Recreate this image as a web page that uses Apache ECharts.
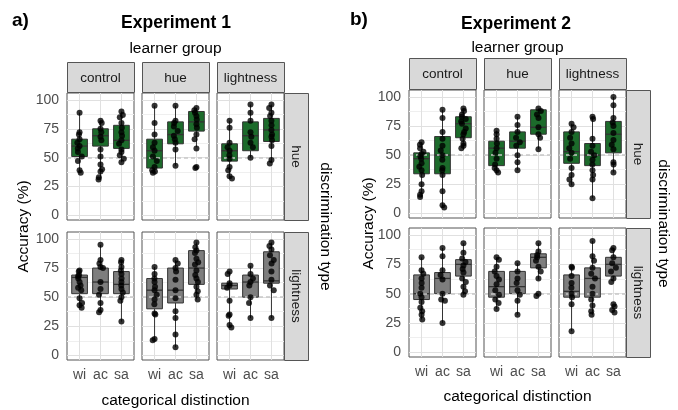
<!DOCTYPE html>
<html>
<head>
<meta charset="utf-8">
<script src="https://cdn.jsdelivr.net/npm/echarts@6/dist/echarts.min.js"></script>
<style>
  html, body { margin: 0; padding: 0; background: #ffffff; }
  #chart { width: 678px; height: 410px; }
</style>
</head>
<body>
<div id="chart"></div>
<script>
// ---- categories and labels ----
const categories = ['wi', 'ac', 'sa'];
const learnerGroups = ['control', 'hue', 'lightness'];
const discriminationTypes = ['hue', 'lightness'];
const yTicks = [0, 25, 50, 75, 100];
const yMinorTicks = [12.5, 37.5, 62.5, 87.5];
const chanceLevel = 50;

// ---- Experiment 1: box stats [min, Q1, median, Q3, max] per category (wi, ac, sa) ----
const e1HueControlBox = [[37, 51, 60, 66, 89], [31, 60, 69, 75, 82], [46, 58, 65, 78, 90]];
const e1HueHueBox = [[37, 41, 56, 66, 95], [43, 62, 70, 81, 95], [59, 73, 81, 90, 93]];
const e1HueLightBox = [[32, 47, 56, 62, 82], [50, 56, 69, 81, 96], [46, 64, 74, 84, 96]];
const e1LightControlBox = [[41, 53, 67, 69, 73], [37, 53, 63, 75, 95], [29, 53, 61, 72, 82]];
const e1LightHueBox = [[13, 40, 56, 66, 76], [7, 45, 56, 75, 82], [48, 61, 75, 90, 97]];
const e1LightLightBox = [[24, 57, 60, 62, 72], [32, 50, 63, 69, 77], [32, 62, 64, 89, 97]];

// ---- Experiment 1: individual accuracies per category (wi, ac, sa) ----
const e1HueControlPts = [
  [89, 72, 70, 66, 63, 60, 58, 55, 51, 47, 39, 37],
  [82, 80, 75, 72, 68, 65, 57, 51, 44, 40, 38, 33, 31],
  [90, 87, 85, 80, 76, 72, 69, 65, 62, 57, 55, 52, 49, 46]
];
const e1HueHuePts = [
  [95, 80, 70, 63, 59, 56, 51, 47, 42, 39, 37, 38],
  [95, 82, 80, 77, 73, 69, 66, 63, 57, 43],
  [93, 91, 89, 86, 83, 79, 76, 70, 66, 58, 42, 41]
];
const e1HueLightPts = [
  [82, 76, 63, 59, 56, 52, 49, 42, 39, 34, 32],
  [96, 89, 82, 72, 68, 63, 59, 50],
  [96, 93, 89, 86, 82, 78, 74, 70, 68, 65, 60, 48, 45]
];
const e1LightControlPts = [
  [73, 72, 69, 68, 66, 63, 60, 58, 56, 49, 45, 43, 41],
  [95, 82, 79, 76, 75, 63, 57, 52, 45, 39, 37],
  [82, 80, 76, 73, 70, 66, 63, 60, 57, 54, 50, 47, 29]
];
const e1LightHuePts = [
  [76, 70, 66, 63, 59, 56, 52, 48, 44, 36, 35, 14, 13],
  [82, 79, 75, 72, 65, 56, 49, 38, 32, 18, 7],
  [97, 93, 90, 88, 83, 80, 78, 73, 69, 66, 63, 59, 55, 52, 48]
];
const e1LightLightPts = [
  [72, 70, 62, 60, 58, 47, 35, 34, 26, 24],
  [77, 70, 66, 63, 60, 50, 45, 32],
  [97, 94, 91, 86, 82, 79, 72, 65, 60, 56, 32]
];

// ---- Experiment 2: box stats ----
const e2HueControlBox = [[14, 34, 47, 52, 61], [5, 34, 50, 66, 89], [55, 65, 77, 83, 90]];
const e2HueHueBox = [[34, 41, 56, 62, 71], [37, 56, 62, 70, 83], [55, 68, 74, 89, 90]];
const e2HueLightBox = [[24, 43, 53, 70, 77], [13, 41, 50, 60, 83], [35, 52, 68, 79, 100]];
const e2LightControlBox = [[28, 45, 50, 66, 81], [25, 50, 63, 68, 89], [49, 65, 75, 79, 93]];
const e2LightHueBox = [[37, 47, 56, 69, 81], [32, 50, 56, 69, 76], [62, 72, 81, 84, 93]];
const e2LightLightBox = [[18, 47, 52, 66, 73], [32, 47, 63, 72, 95], [62, 65, 75, 81, 89]];

// ---- Experiment 2: individual accuracies ----
const e2HueControlPts = [
  [61, 59, 56, 53, 51, 49, 47, 43, 40, 37, 33, 25, 19, 16, 14],
  [89, 82, 70, 64, 58, 54, 50, 46, 39, 37, 33, 19, 7, 5],
  [90, 88, 85, 83, 81, 79, 77, 73, 70, 68, 64, 60, 58, 56]
];
const e2HueHuePts = [
  [71, 68, 64, 60, 56, 52, 47, 42, 39, 37, 35],
  [83, 76, 70, 65, 61, 58, 50, 44, 37],
  [90, 88, 85, 82, 74, 68, 65, 55]
];
const e2HueLightPts = [
  [77, 74, 70, 65, 60, 56, 52, 47, 39, 33, 29, 25],
  [83, 81, 64, 58, 53, 50, 46, 42, 37, 33, 29, 13],
  [100, 93, 82, 78, 75, 69, 63, 59, 55, 44, 42, 35]
];
const e2LightControlPts = [
  [81, 70, 67, 63, 59, 55, 50, 47, 43, 38, 35, 32, 28],
  [89, 82, 70, 66, 62, 50, 45, 44, 25],
  [93, 85, 80, 77, 74, 71, 68, 63, 60, 56, 52, 49]
];
const e2LightHuePts = [
  [81, 79, 73, 69, 65, 62, 58, 53, 49, 45, 42, 37],
  [76, 69, 63, 59, 53, 49, 44, 32],
  [93, 86, 83, 81, 78, 73, 69, 63, 50, 48]
];
const e2LightLightPts = [
  [73, 72, 65, 59, 55, 50, 47, 41, 18],
  [95, 82, 78, 72, 67, 63, 56, 50, 45, 40, 35, 32],
  [89, 87, 81, 76, 72, 69, 63, 60, 41, 39, 36, 34]
];

// ---- facet assembly: [discrimination row][learner column] ----
const experiments = [
  {
    tag: 'a)', title: 'Experiment 1',
    boxes: [[e1HueControlBox, e1HueHueBox, e1HueLightBox], [e1LightControlBox, e1LightHueBox, e1LightLightBox]],
    points: [[e1HueControlPts, e1HueHuePts, e1HueLightPts], [e1LightControlPts, e1LightHuePts, e1LightLightPts]]
  },
  {
    tag: 'b)', title: 'Experiment 2',
    boxes: [[e2HueControlBox, e2HueHueBox, e2HueLightBox], [e2LightControlBox, e2LightHueBox, e2LightLightBox]],
    points: [[e2HueControlPts, e2HueHuePts, e2HueLightPts], [e2LightControlPts, e2LightHuePts, e2LightLightPts]]
  }
];

// ---- layout (pixels) ----
const layouts = [
  { cols: [67, 142, 217], panelW: 67, rows: [[93, 127], [232, 128]], stripTop: 62, stripH: 30,
    sideX: 284, sideW: 24, tagX: 12, tagY: 21, titleX: 176, titleY: 23, groupY: 49,
    yTitleX: 24, discTitleX: 325, xTitleY: 401 },
  { cols: [409, 484, 559], panelW: 67, rows: [[90, 128], [228, 129]], stripTop: 58, stripH: 31,
    sideX: 626, sideW: 24, tagX: 350, tagY: 20, titleX: 516, titleY: 24, groupY: 48,
    yTitleX: 369, discTitleX: 663, xTitleY: 397 }
];

// discrete x scale: categories at 0..2, padded by 0.6 on each side
const X_MIN = -0.6, X_MAX = 2.6;
const Y_MIN = -4, Y_MAX = 106;
const BOX_WIDTH = 0.75;

const FONT = '"Liberation Sans", Arial, Helvetica, sans-serif';
const fillColors = ['#1c6b2b', '#7e7e7e'];
const AXIS_TEXT = '#4d4d4d';
const BORDER = '#555555';
const STRIP_FILL = '#d9d9d9';

// box + whiskers drawn through the axis scales
function renderBox(params, api) {
  const x = api.value(0);
  const lo = api.coord([x, api.value(1)]);
  const q1 = api.coord([x, api.value(2)]);
  const med = api.coord([x, api.value(3)]);
  const q3 = api.coord([x, api.value(4)]);
  const hi = api.coord([x, api.value(5)]);
  const half = api.size([BOX_WIDTH, 0])[0] / 2;
  const cx = q1[0];
  const stroke = { stroke: '#333333', lineWidth: 1 };
  return {
    type: 'group',
    children: [
      { type: 'line', shape: { x1: cx, y1: lo[1], x2: cx, y2: q1[1] }, style: stroke },
      { type: 'line', shape: { x1: cx, y1: q3[1], x2: cx, y2: hi[1] }, style: stroke },
      { type: 'rect', shape: { x: cx - half, y: q3[1], width: half * 2, height: q1[1] - q3[1] },
        style: { fill: api.visual('color'), stroke: '#333333', lineWidth: 1 } },
      { type: 'line', shape: { x1: cx - half, y1: med[1], x2: cx + half, y2: med[1] }, style: { stroke: '#333333', lineWidth: 1.3 } }
    ]
  };
}

const grids = [], xAxes = [], yAxes = [], series = [], graphics = [];

experiments.forEach((exp, e) => {
  const L = layouts[e];
  discriminationTypes.forEach((disc, r) => {
    learnerGroups.forEach((grp, c) => {
      const [top, h] = L.rows[r];
      const isBottom = r === discriminationTypes.length - 1;
      const isLeft = c === 0;
      const unit = L.panelW / (X_MAX - X_MIN);
      const inset = unit * (-0.5 - X_MIN);

      // panel grid: value scale for grid lines, boxes and chance level
      const gi = grids.length;
      grids.push({
        left: L.cols[c], top: top, width: L.panelW, height: h,
        show: true, backgroundColor: '#ffffff', borderColor: BORDER, borderWidth: 1
      });
      xAxes.push({
        type: 'value', gridIndex: gi, min: X_MIN, max: X_MAX,
        axisLine: { show: false }, splitLine: { show: false },
        axisTick: { show: isBottom, customValues: [0, 1, 2], length: 4, lineStyle: { color: '#333', width: 1 } },
        axisLabel: {
          show: isBottom, customValues: [0, 1, 2], margin: 8,
          formatter: v => categories[Math.round(v)] || '',
          color: AXIS_TEXT, fontSize: 14, fontFamily: FONT
        }
      });
      yAxes.push({
        type: 'value', gridIndex: gi, min: Y_MIN, max: Y_MAX,
        axisLine: { show: false }, splitLine: { show: false },
        axisTick: { show: isLeft, customValues: yTicks, length: 4, lineStyle: { color: '#333', width: 1 } },
        axisLabel: { show: isLeft, customValues: yTicks, margin: 8, color: AXIS_TEXT, fontSize: 14, fontFamily: FONT }
      });

      // overlay grid: band scale for jittered points (same category centres)
      const gj = grids.length;
      grids.push({ left: L.cols[c] + inset, top: top, width: L.panelW - 2 * inset, height: h, show: false });
      xAxes.push({
        type: 'category', gridIndex: gj, data: categories, boundaryGap: true,
        jitter: 5, jitterOverlap: false, jitterMargin: 0,
        axisLine: { show: false }, axisTick: { show: false }, axisLabel: { show: false }, splitLine: { show: false }
      });
      yAxes.push({
        type: 'value', gridIndex: gj, min: Y_MIN, max: Y_MAX,
        axisLine: { show: false }, axisTick: { show: false }, axisLabel: { show: false }, splitLine: { show: false }
      });

      const gridLines = [].concat(
        yMinorTicks.map(v => ({ yAxis: v, lineStyle: { color: '#efefef', width: 1, type: 'solid' } })),
        yTicks.map(v => ({ yAxis: v, lineStyle: { color: '#e0e0e0', width: 1, type: 'solid' } })),
        categories.map((cat, i) => ({ xAxis: i, lineStyle: { color: '#e0e0e0', width: 1, type: 'solid' } }))
      );

      series.push({
        type: 'custom', xAxisIndex: gi, yAxisIndex: gi, z: 3, silent: true,
        renderItem: renderBox,
        itemStyle: { color: fillColors[r] },
        encode: { x: 0, y: [1, 2, 3, 4, 5] },
        data: exp.boxes[r][c].map((b, i) => [i].concat(b)),
        markLine: {
          silent: true, animation: false, z: 1, symbol: ['none', 'none'],
          label: { show: false }, emphasis: { disabled: true },
          data: gridLines
        }
      });

      series.push({
        type: 'line', xAxisIndex: gi, yAxisIndex: gi, data: [], silent: true,
        markLine: {
          silent: true, animation: false, z: 4, symbol: ['none', 'none'],
          label: { show: false }, emphasis: { disabled: true },
          data: [{ yAxis: chanceLevel, lineStyle: { color: '#c8c8c8', width: 1.5, type: [4, 3] } }]
        }
      });

      const pts = [];
      exp.points[r][c].forEach((vals, i) => vals.forEach(v => pts.push([i, v])));
      series.push({
        type: 'scatter', xAxisIndex: gj, yAxisIndex: gj,
        symbol: 'circle', symbolSize: 6, z: 5, silent: true,
        itemStyle: { color: '#000000' },
        data: pts
      });

      // learner-group strip above the first row
      if (r === 0) {
        graphics.push({
          type: 'rect', z: 10, silent: true,
          shape: { x: L.cols[c] + 0.5, y: L.stripTop + 0.5, width: L.panelW, height: L.stripH },
          style: { fill: STRIP_FILL, stroke: BORDER, lineWidth: 1 }
        });
        graphics.push({
          type: 'text', z: 11, silent: true,
          x: L.cols[c] + L.panelW / 2, y: L.stripTop + L.stripH / 2 + 1,
          style: { text: grp, fill: '#1a1a1a', fontSize: 13.5, fontFamily: FONT, align: 'center', verticalAlign: 'middle' }
        });
      }
    });

    // discrimination-type strip to the right of each row
    const [top, h] = L.rows[r];
    graphics.push({
      type: 'rect', z: 10, silent: true,
      shape: { x: L.sideX + 0.5, y: top + 0.5, width: L.sideW, height: h },
      style: { fill: STRIP_FILL, stroke: BORDER, lineWidth: 1 }
    });
    graphics.push({
      type: 'text', z: 11, silent: true, rotation: -Math.PI / 2,
      x: L.sideX + L.sideW / 2, y: top + h / 2,
      style: { text: disc, fill: '#1a1a1a', fontSize: 13.5, fontFamily: FONT, align: 'center', verticalAlign: 'middle' }
    });
  });

  const rowsTop = L.rows[0][0];
  const rowsBottom = L.rows[1][0] + L.rows[1][1];
  const panelsLeft = L.cols[0];
  const panelsRight = L.cols[2] + L.panelW;

  graphics.push(
    { type: 'text', z: 11, silent: true, x: L.tagX, y: L.tagY,
      style: { text: exp.tag, fill: '#000', fontSize: 19, fontWeight: 'bold', fontFamily: FONT, align: 'left', verticalAlign: 'middle' } },
    { type: 'text', z: 11, silent: true, x: L.titleX, y: L.titleY,
      style: { text: exp.title, fill: '#000', fontSize: 17.5, fontWeight: 'bold', fontFamily: FONT, align: 'center', verticalAlign: 'middle' } },
    { type: 'text', z: 11, silent: true, x: (panelsLeft + panelsRight) / 2, y: L.groupY,
      style: { text: 'learner group', fill: '#000', fontSize: 15.5, fontFamily: FONT, align: 'center', verticalAlign: 'middle' } },
    { type: 'text', z: 11, silent: true, x: (panelsLeft + panelsRight) / 2, y: L.xTitleY,
      style: { text: 'categorical distinction', fill: '#000', fontSize: 15.5, fontFamily: FONT, align: 'center', verticalAlign: 'middle' } },
    { type: 'text', z: 11, silent: true, rotation: Math.PI / 2, x: L.yTitleX, y: (rowsTop + rowsBottom) / 2,
      style: { text: 'Accuracy (%)', fill: '#000', fontSize: 15.5, fontFamily: FONT, align: 'center', verticalAlign: 'middle' } },
    { type: 'text', z: 11, silent: true, rotation: -Math.PI / 2, x: L.discTitleX, y: (rowsTop + rowsBottom) / 2,
      style: { text: 'discrimination type', fill: '#000', fontSize: 15.5, fontFamily: FONT, align: 'center', verticalAlign: 'middle' } }
  );
});

const chart = echarts.init(document.getElementById('chart'), null, { renderer: 'canvas' });
chart.setOption({
  animation: false,
  backgroundColor: '#ffffff',
  grid: grids,
  xAxis: xAxes,
  yAxis: yAxes,
  series: series,
  graphic: { elements: graphics }
});
</script>
</body>
</html>
